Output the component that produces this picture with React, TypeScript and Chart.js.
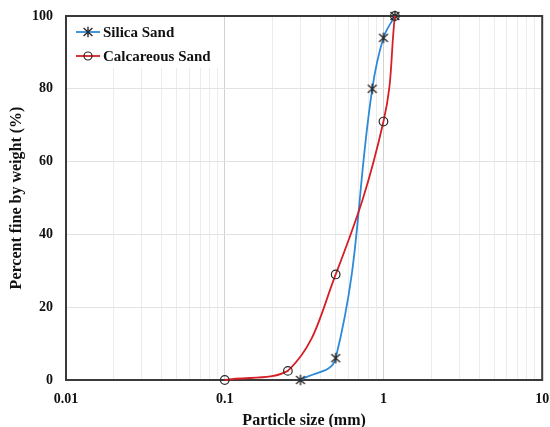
import { useEffect, useRef } from 'react';
import { Chart, registerables } from 'chart.js';
Chart.register(...registerables);

const seriesNames = ['Silica Sand', 'Calcareous Sand'];
const silicaSize = [0.3, 0.5, 0.85, 1.0, 1.18];
const silicaPct = [0, 6, 80, 94, 100];
const calcSize = [0.1, 0.25, 0.5, 1.0, 1.18];
const calcPct = [0, 2.5, 29, 71, 100];
const xTickValues = [0.01, 0.1, 1, 10];
const xTickLabels = ['0.01', '0.1', '1', '10'];
const yMin = 0;
const yMax = 100;
const yStep = 20;
const xTitle = 'Particle size (mm)';
const yTitle = 'Percent fine by weight (%)';

const BLUE = '#2E8AD8';
const RED = '#D61F26';
const MARK = '#2a2a2a';
const FONT = "'Liberation Serif', 'Times New Roman', serif";

function makeStar(size: number, color: string) {
  const c = document.createElement('canvas');
  c.width = size;
  c.height = size;
  const g = c.getContext('2d')!;
  g.strokeStyle = color;
  g.lineWidth = 1.4;
  const h = size / 2;
  const r = size / 2 - 0.8;
  g.beginPath();
  g.moveTo(h - r * 0.85, h - r * 0.75);
  g.lineTo(h + r * 0.85, h + r * 0.75);
  g.moveTo(h - r * 0.85, h + r * 0.75);
  g.lineTo(h + r * 0.85, h - r * 0.75);
  g.moveTo(h, h - r);
  g.lineTo(h, h + r);
  g.stroke();
  return c;
}

const isMajor = (v: number) => {
  const l = Math.log10(v);
  return Math.abs(l - Math.round(l)) < 1e-9;
};

export default function App() {
  const ref = useRef<HTMLCanvasElement | null>(null);
  useEffect(() => {
    document.body.style.margin = '0';
    const star = makeStar(12, MARK);
    const allXTicks: number[] = [];
    for (let i = 0; i < xTickValues.length - 1; i++) {
      for (let m = 1; m <= 9; m++) allXTicks.push(+(xTickValues[i] * m).toPrecision(6));
    }
    allXTicks.push(xTickValues[xTickValues.length - 1]);

    const deco = {
      id: 'deco',
      beforeDatasetsDraw(chart: any) {
        const { ctx, chartArea: a } = chart;
        ctx.save();
        ctx.fillStyle = '#ffffff';
        ctx.fillRect(a.left + 1, a.top + 1, 156, 51);
        const rows = [
          { y: a.top + 16, color: BLUE, name: seriesNames[0], kind: 'star' },
          { y: a.top + 40, color: RED, name: seriesNames[1], kind: 'circle' },
        ];
        for (const r of rows) {
          ctx.strokeStyle = r.color;
          ctx.lineWidth = 1.8;
          ctx.beginPath();
          ctx.moveTo(a.left + 10, r.y);
          ctx.lineTo(a.left + 34, r.y);
          ctx.stroke();
          if (r.kind === 'star') {
            ctx.drawImage(star, a.left + 22 - 6, r.y - 6);
          } else {
            ctx.strokeStyle = MARK;
            ctx.lineWidth = 1.2;
            ctx.beginPath();
            ctx.arc(a.left + 22, r.y, 4, 0, Math.PI * 2);
            ctx.stroke();
          }
          ctx.fillStyle = '#111';
          ctx.font = `bold 15px ${FONT}`;
          ctx.textBaseline = 'middle';
          ctx.textAlign = 'left';
          ctx.fillText(r.name, a.left + 37, r.y + 1);
        }
        ctx.strokeStyle = '#3a3a3a';
        ctx.lineWidth = 2;
        ctx.strokeRect(a.left, a.top, a.right - a.left, a.bottom - a.top);
        ctx.restore();
      },
      afterDraw(chart: any) {
        const { ctx, chartArea: a } = chart;
        ctx.save();
        ctx.fillStyle = '#111';
        ctx.font = `bold 16px ${FONT}`;
        ctx.textAlign = 'center';
        ctx.textBaseline = 'middle';
        ctx.fillText(xTitle, (a.left + a.right) / 2, 421);
        ctx.translate(17, (a.top + a.bottom) / 2);
        ctx.rotate(-Math.PI / 2);
        ctx.fillText(yTitle, 0, 0);
        ctx.restore();
      },
    };

    const chart = new Chart(ref.current!, {
      type: 'line',
      data: {
        datasets: [
          {
            label: seriesNames[0],
            data: silicaSize.map((x, i) => ({ x, y: silicaPct[i] })),
            borderColor: BLUE,
            borderWidth: 1.8,
            tension: 0.4,
            pointStyle: star as any,
            pointRadius: 6,
            clip: 8,
            order: 1,
          },
          {
            label: seriesNames[1],
            data: calcSize.map((x, i) => ({ x, y: calcPct[i] })),
            borderColor: RED,
            borderWidth: 1.8,
            tension: 0.4,
            pointStyle: 'circle',
            pointRadius: 4.3,
            pointBorderColor: MARK,
            pointBorderWidth: 1.2,
            pointBackgroundColor: 'rgba(0,0,0,0)',
            clip: 8,
            order: 0,
          },
        ],
      },
      options: {
        animation: false,
        responsive: false,
        layout: { padding: { left: 0, top: 16, right: 7, bottom: 0 } },
        plugins: { legend: { display: false }, tooltip: { enabled: false } },
        scales: {
          x: {
            type: 'logarithmic',
            min: xTickValues[0],
            max: xTickValues[xTickValues.length - 1],
            afterBuildTicks: (s: any) => {
              s.ticks = allXTicks.map((v) => ({ value: v, major: isMajor(v) }));
            },
            afterFit: (s: any) => {
              s.height = 47;
              s.paddingLeft = 0;
              s.paddingRight = 0;
            },
            border: { display: false },
            grid: {
              drawTicks: false,
              lineWidth: 1,
              color: (c: any) => (c.tick && isMajor(c.tick.value) ? '#d2d2d2' : '#ececec'),
            },
            ticks: {
              autoSkip: false,
              maxRotation: 0,
              padding: 11,
              color: '#111',
              font: { family: FONT, size: 14, weight: 'bold' },
              callback: (v: any) => {
                const idx = xTickValues.findIndex((t) => Math.abs(t - Number(v)) < 1e-9);
                return idx >= 0 ? xTickLabels[idx] : '';
              },
            },
          },
          y: {
            min: yMin,
            max: yMax,
            afterFit: (s: any) => {
              s.width = 66;
              s.paddingTop = 0;
              s.paddingBottom = 0;
            },
            border: { display: false },
            grid: { drawTicks: false, color: '#e2e2e2' },
            ticks: {
              stepSize: yStep,
              padding: 13,
              color: '#111',
              font: { family: FONT, size: 14, weight: 'bold' },
            },
          },
        },
      },
      plugins: [deco],
    });
    return () => chart.destroy();
  }, []);
  return (
    <div style={{ width: 550, height: 427, background: '#fff' }}>
      <canvas ref={ref} width={550} height={427} style={{ display: 'block' }} />
    </div>
  );
}
